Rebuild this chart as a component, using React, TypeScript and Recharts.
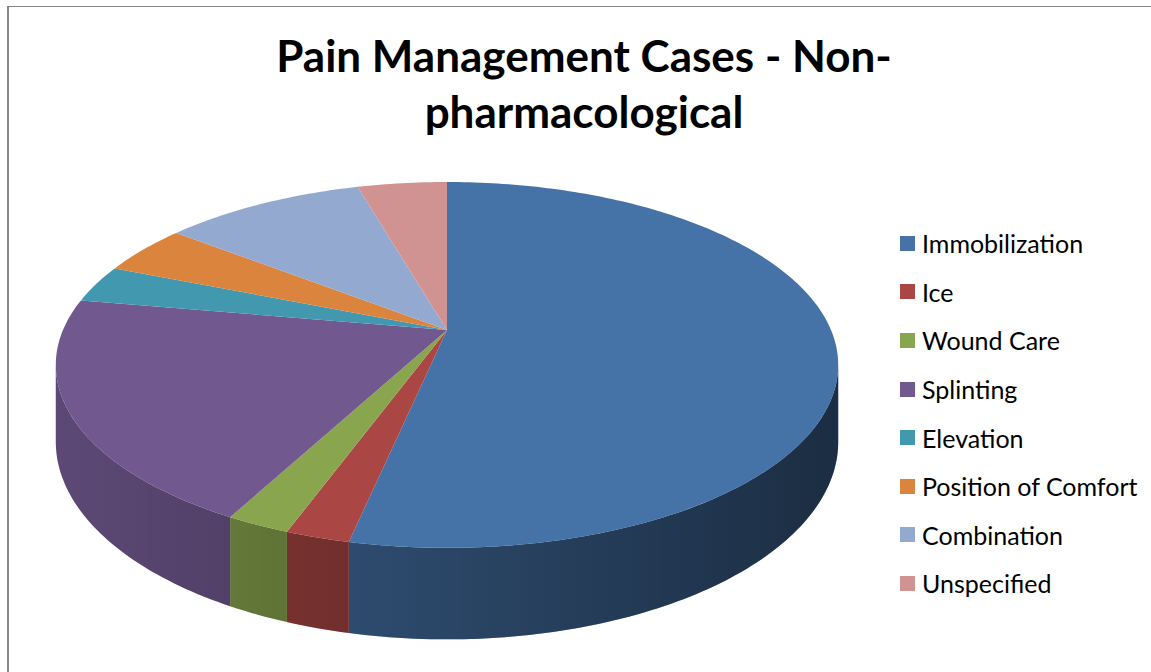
import { PieChart, Pie, Legend } from "recharts";

const categories = [
  "Immobilization",
  "Ice",
  "Wound Care",
  "Splinting",
  "Elevation",
  "Position of Comfort",
  "Combination",
  "Unspecified",
];
const caseCounts = [48, 2, 2, 18, 3, 4, 9, 4];
const sliceColors = [
  "#4572A7",
  "#AA4643",
  "#89A54E",
  "#71588F",
  "#4198AF",
  "#DB843D",
  "#93A9CF",
  "#D19392",
];

const data = categories.map((name, i) => ({
  name,
  value: caseCounts[i],
  fill: sliceColors[i],
}));

// fake 3D: tilted disc with a bit of perspective
const PERSP = 0.191;
const TILT = 0.459;
const DEPTH = 74;
const FRONT_FROM = (Math.acos(-PERSP) * 180) / Math.PI;
const FRONT_TO = 360 - FRONT_FROM;

function project(cx: number, cy: number, r: number, deg: number, drop = 0) {
  const t = (deg * Math.PI) / 180;
  const den = 1 + PERSP * Math.cos(t);
  return [
    cx + (r * Math.sin(t)) / den,
    cy - (r * TILT * Math.cos(t)) / den + drop / den,
  ];
}

function rim(cx: number, cy: number, r: number, from: number, to: number, drop = 0) {
  const steps = Math.max(2, Math.ceil(Math.abs(to - from)));
  const pts: string[] = [];
  for (let i = 0; i <= steps; i++) {
    const a = from + ((to - from) * i) / steps;
    const [x, y] = project(cx, cy, r, a, drop);
    pts.push(`${x.toFixed(2)},${y.toFixed(2)}`);
  }
  return pts.join(" L ");
}

function Slice3D(props: any) {
  const { cx, cy, outerRadius, startAngle, endAngle, fill, index } = props;
  const a1 = 90 - startAngle;
  const a2 = 90 - endAngle;
  const top = `M ${cx},${cy} L ${rim(cx, cy, outerRadius, a1, a2)} Z`;
  const s1 = Math.max(a1, FRONT_FROM);
  const s2 = Math.min(a2, FRONT_TO);
  const side =
    s1 < s2
      ? `M ${rim(cx, cy, outerRadius, s1, s2)} L ${rim(cx, cy, outerRadius, s2, s1, DEPTH)} Z`
      : null;
  const gid = `side-shade-${index}`;
  return (
    <g>
      <defs>
        <linearGradient id={gid} gradientUnits="userSpaceOnUse" x1={60} y1={0} x2={830} y2={0}>
          <stop offset="0" stopColor="#000" stopOpacity={0.18} />
          <stop offset="1" stopColor="#000" stopOpacity={0.6} />
        </linearGradient>
      </defs>
      {side && <path d={side} fill={fill} />}
      {side && <path d={side} fill={`url(#${gid})`} />}
      <path d={top} fill={fill} />
    </g>
  );
}

function LegendList() {
  return (
    <div style={{ fontFamily: "Lato, sans-serif", fontSize: 25, color: "#000" }}>
      {categories.map((name, i) => (
        <div key={name} style={{ height: 48.6, display: "flex", alignItems: "center" }}>
          <span
            style={{
              width: 15,
              height: 15,
              background: sliceColors[i],
              marginRight: 7,
              flex: "none",
            }}
          />
          <span>{name}</span>
        </div>
      ))}
    </div>
  );
}

export default function App() {
  return (
    <div
      style={{
        position: "fixed",
        left: 0,
        top: 0,
        width: 1151,
        height: 672,
        overflow: "hidden",
        background: "#fff",
      }}
    >
      <div
        style={{
          position: "absolute",
          left: 7,
          top: 6,
          width: 1200,
          height: 700,
          borderTop: "1px solid #878787",
          borderLeft: "2px solid #878787",
        }}
      />
      <div
        style={{
          position: "absolute",
          left: 234,
          top: 27,
          width: 700,
          textAlign: "center",
          fontFamily: "Lato, sans-serif",
          fontWeight: 700,
          fontSize: 44,
          lineHeight: "56px",
          color: "#000",
        }}
      >
        Pain Management Cases - Non-
        <br />
        pharmacological
      </div>
      <PieChart width={1151} height={672} margin={{ top: 0, right: 0, bottom: 0, left: 0 }}>
        <Pie
          data={data}
          dataKey="value"
          nameKey="name"
          cx={447}
          cy={330}
          outerRadius={384}
          startAngle={90}
          endAngle={-270}
          stroke="none"
          shape={Slice3D}
          inactiveShape={Slice3D}
          isAnimationActive={false}
        />
        <Legend
          layout="horizontal"
          verticalAlign="middle"
          align="center"
          wrapperStyle={{ left: 900, top: 219, width: 250 }}
          content={() => <LegendList />}
        />
      </PieChart>
    </div>
  );
}
